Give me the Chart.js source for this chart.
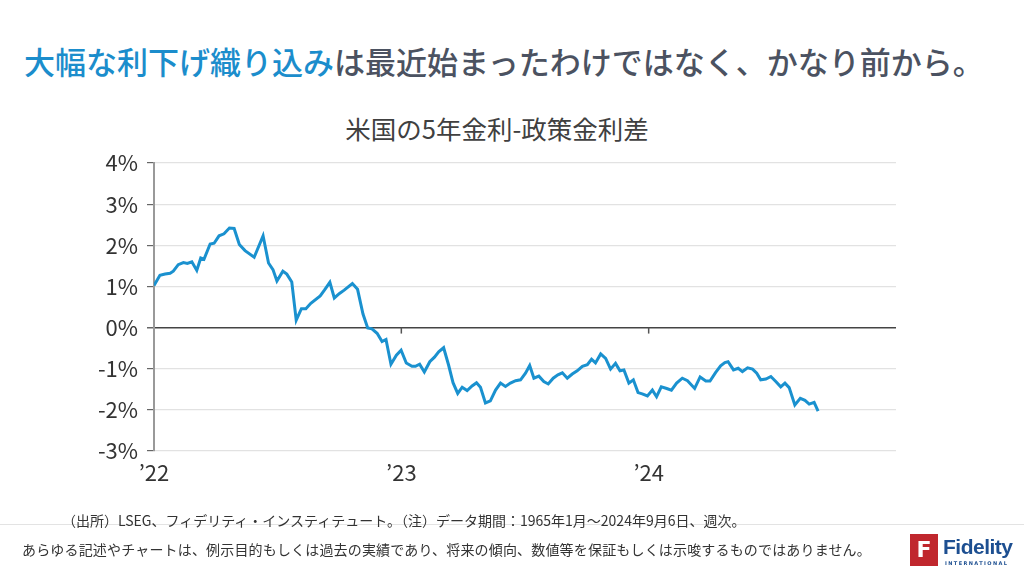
<!DOCTYPE html>
<html lang="ja">
<head>
<meta charset="utf-8">
<title>米国の5年金利-政策金利差</title>
<script src="https://cdn.jsdelivr.net/npm/chart.js@4.4.1/dist/chart.umd.min.js"></script>
<style>
  html, body { margin: 0; padding: 0; width: 1024px; height: 576px; overflow: hidden; background: #fff;
    font-family: "Noto Sans CJK JP", "Noto Sans", sans-serif; }
  #chartBox { position: absolute; left: 0; top: 0; width: 1024px; height: 576px; }
  .headline { position: absolute; left: 24px; top: 38px; font-size: 31px; font-weight: 500; color: #4b5261; white-space: nowrap; }
  .headline .hl { color: #1b8dcc; }
  .chart-title { position: absolute; left: 0; width: 994px; top: 109px; text-align: center; font-size: 25.5px; color: #404040; }
  .rule { position: absolute; left: 0; right: 0; top: 524px; height: 1px; background: #e3e3e3; }
  .note { position: absolute; left: 62px; top: 510px; font-size: 14px; color: #333; white-space: nowrap; }
  .disclaimer { position: absolute; left: 22px; top: 539px; font-size: 14px; letter-spacing: 0.17px; color: #333; white-space: nowrap; }
  .logo { position: absolute; left: 910px; top: 534px; width: 110px; height: 34px; }
  .logo .box { position: absolute; left: 0; top: 0; width: 28px; height: 32px; background: #c0272d; color: #fff;
    font: bold 22px "DejaVu Sans", sans-serif; text-align: center; line-height: 32px; }
  .logo .name { position: absolute; left: 33px; top: 1px; font: bold 21px "Liberation Sans", sans-serif; color: #1d4f91; letter-spacing: -0.5px; }
  .logo .sub { position: absolute; left: 35px; top: 26px; font: bold 5px "DejaVu Sans", sans-serif; color: #1d4f91; letter-spacing: 1.4px; }
</style>
</head>
<body>
<div class="headline"><span class="hl">大幅な利下げ織り込み</span>は最近始まったわけではなく、かなり前から。</div>
<div class="chart-title">米国の5年金利-政策金利差</div>
<div id="chartBox"><canvas id="spreadChart"></canvas></div>
<div class="rule"></div>
<div class="note">（出所）LSEG、フィデリティ・インスティテュート。（注）データ期間：1965年1月～2024年9月6日、週次。</div>
<div class="disclaimer">あらゆる記述やチャートは、例示目的もしくは過去の実績であり、将来の傾向、数値等を保証もしくは示唆するものではありません。</div>
<div class="logo"><div class="box">F</div><div class="name">Fidelity</div><div class="sub">INTERNATIONAL</div></div>

<script>
// 週次データ（年の小数表記）と 5年金利-政策金利 の差（%）
const weeks = [
  2022.000, 2022.024, 2022.045, 2022.065, 2022.078, 2022.098, 2022.119, 2022.135, 2022.153, 2022.173,
  2022.189, 2022.202, 2022.227, 2022.243, 2022.263, 2022.283, 2022.305, 2022.324, 2022.345, 2022.368,
  2022.405, 2022.441, 2022.463, 2022.481, 2022.497, 2022.521, 2022.537, 2022.557, 2022.575, 2022.596,
  2022.614, 2022.634, 2022.672, 2022.689, 2022.711, 2022.729, 2022.750, 2022.769, 2022.802, 2022.823,
  2022.845, 2022.864, 2022.881, 2022.902, 2022.922, 2022.938, 2022.958, 2022.980, 2022.999, 2023.020,
  2023.043, 2023.057, 2023.074, 2023.093, 2023.115, 2023.134, 2023.151, 2023.171, 2023.191, 2023.209,
  2023.228, 2023.246, 2023.266, 2023.286, 2023.304, 2023.320, 2023.340, 2023.360, 2023.381, 2023.401,
  2023.421, 2023.441, 2023.462, 2023.482, 2023.502, 2023.519, 2023.536, 2023.556, 2023.576, 2023.594,
  2023.614, 2023.633, 2023.651, 2023.671, 2023.691, 2023.711, 2023.732, 2023.752, 2023.769, 2023.785,
  2023.806, 2023.826, 2023.846, 2023.866, 2023.884, 2023.900, 2023.920, 2023.938, 2023.957, 2023.974,
  2023.995, 2024.015, 2024.032, 2024.051, 2024.073, 2024.092, 2024.113, 2024.136, 2024.157, 2024.186,
  2024.208, 2024.231, 2024.248, 2024.271, 2024.291, 2024.308, 2024.321, 2024.343, 2024.362, 2024.379,
  2024.400, 2024.420, 2024.437, 2024.453, 2024.474, 2024.494, 2024.514, 2024.534, 2024.551, 2024.568,
  2024.591, 2024.613, 2024.632, 2024.649, 2024.669, 2024.685
];
const spread = [
   1.02,  1.27,  1.30,  1.32,  1.37,  1.53,  1.58,  1.56,  1.60,  1.39,
   1.69,  1.66,  2.03,  2.05,  2.23,  2.28,  2.42,  2.41,  2.02,  1.87,
   1.71,  2.23,  1.57,  1.41,  1.13,  1.37,  1.30,  1.11,  0.18,  0.46,
   0.46,  0.59,  0.77,  0.91,  1.10,  0.72,  0.83,  0.91,  1.07,  0.93,
   0.33, -0.01, -0.03, -0.14, -0.34, -0.29, -0.89, -0.67, -0.55, -0.86,
  -0.94, -0.94, -0.89, -1.08, -0.83, -0.72, -0.59, -0.49, -0.91, -1.34,
  -1.60, -1.45, -1.53, -1.42, -1.34, -1.45, -1.83, -1.78, -1.52, -1.35,
  -1.43, -1.35, -1.29, -1.27, -1.11, -0.92, -1.23, -1.18, -1.31, -1.37,
  -1.23, -1.15, -1.10, -1.23, -1.13, -1.05, -0.94, -0.90, -0.77, -0.86,
  -0.64, -0.75, -1.01, -0.87, -1.05, -1.03, -1.35, -1.27, -1.58, -1.61,
  -1.66, -1.52, -1.68, -1.44, -1.48, -1.52, -1.35, -1.23, -1.29, -1.48,
  -1.20, -1.30, -1.30, -1.09, -0.93, -0.85, -0.83, -1.03, -0.99, -1.07,
  -0.98, -1.01, -1.11, -1.27, -1.25, -1.19, -1.31, -1.44, -1.35, -1.46,
  -1.88, -1.72, -1.77, -1.86, -1.82, -2.03
];
const xYears = [2022, 2023, 2024];
const yMin = -3, yMax = 4;

// 0%ライン上の年の目盛り
const zeroTicks = {
  id: 'zeroTicks',
  afterDatasetsDraw(chart) {
    const { ctx, scales: { x, y } } = chart;
    const y0 = y.getPixelForValue(0);
    ctx.save();
    ctx.strokeStyle = '#555';
    ctx.lineWidth = 1.5;
    xYears.slice(1).forEach(yr => {
      const px = x.getPixelForValue(yr);
      ctx.beginPath();
      ctx.moveTo(px, y0);
      ctx.lineTo(px, y0 + 6);
      ctx.stroke();
    });
    ctx.restore();
  }
};

document.addEventListener('DOMContentLoaded', () => {
  const ctx = document.getElementById('spreadChart').getContext('2d');
  new Chart(ctx, {
    type: 'line',
    data: {
      datasets: [{
        label: '米国の5年金利-政策金利差',
        data: weeks.map((w, i) => ({ x: w, y: spread[i] })),
        borderColor: '#1a91cf',
        borderWidth: 3,
        pointRadius: 0,
        tension: 0,
        fill: false
      }]
    },
    options: {
      responsive: true,
      maintainAspectRatio: false,
      animation: false,
      layout: { padding: { left: 0, right: 128, top: 163, bottom: 86 } },
      plugins: {
        legend: { display: false },
        tooltip: { enabled: false }
      },
      scales: {
        x: {
          type: 'linear',
          min: 2022,
          max: 2025,
          grid: { display: false },
          border: { display: false },
          afterFit: scale => { scale.height = 39; },
          ticks: {
            stepSize: 1,
            autoSkip: false,
            maxRotation: 0,
            padding: 0,
            color: '#333',
            font: { family: '"Noto Sans CJK JP", sans-serif', size: 22 },
            callback: v => xYears.includes(v) ? '\u2019' + String(v).slice(2) : ''
          }
        },
        y: {
          min: yMin,
          max: yMax,
          afterFit: scale => { scale.width = 154; },
          border: { display: true, color: '#999', width: 2 },
          grid: {
            color: c => c.tick && c.tick.value === 0 ? '#444' : '#e2e2e2',
            lineWidth: c => c.tick && c.tick.value === 0 ? 1.5 : 1.2,
            tickColor: '#666',
            tickLength: 7
          },
          ticks: {
            stepSize: 1,
            padding: 9,
            color: '#333',
            font: { family: '"Noto Sans CJK JP", sans-serif', size: 22 },
            callback: v => v + '%'
          }
        }
      }
    },
    plugins: [zeroTicks]
  });
});
</script>
</body>
</html>
